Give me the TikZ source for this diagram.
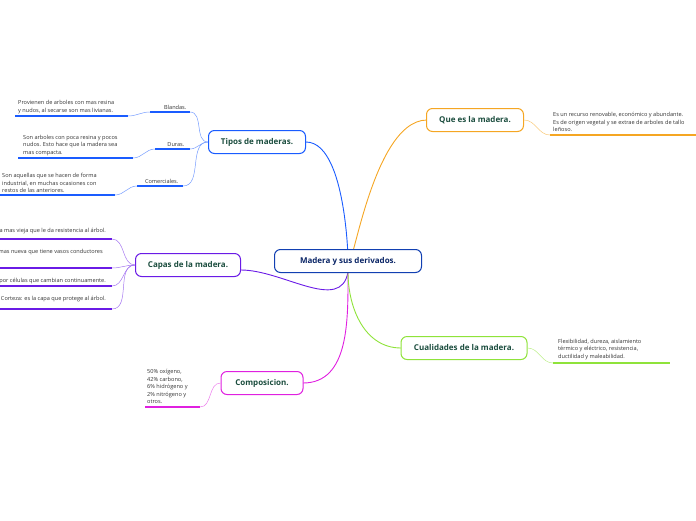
\documentclass[tikz,border=0pt]{standalone}
\usepackage{fontspec}
\setmainfont{Open Sans}
\usetikzlibrary{positioning}
\definecolor{cblue}{HTML}{1A5CFF}
\definecolor{cpurple}{HTML}{6A1BE6}
\definecolor{cmag}{HTML}{E020E0}
\definecolor{corange}{HTML}{F5A623}
\definecolor{cgreen}{HTML}{8FE33A}
\definecolor{ctext}{HTML}{1B4D3E}
\tikzset{
  topic/.style={draw, rounded corners=6pt, line width=1pt, fill=white, text=ctext,
    font=\fontsize{8}{9}\selectfont\bfseries, inner xsep=6pt, minimum height=23pt},
  leaf/.style={font=\fontsize{5.6}{7.5}\selectfont, text=black!80, align=left, inner sep=0pt},
  under/.style={line width=1.2pt},
  branch/.style={line width=0.9pt},
  twig/.style={line width=0.5pt}
}
\begin{document}
\begin{tikzpicture}[x=1pt, y=-1pt]
        \useasboundingbox (0,0) rectangle (696,520);
        % central topic
        \coordinate (hubN) at (348,250);
        \coordinate (hubS) at (348,272);
        \draw[branch, cblue] (hubN) to[out=270, in=0] (306,142);
        \draw[branch, cpurple] (hubS) to[out=260, in=0] (241,270);
        \draw[branch, cmag] (hubS) to[out=270, in=0] (303,383);
        \draw[branch, corange] (hubN) to[out=270, in=180] (427,120);
        \draw[branch, cgreen] (hubS) to[out=270, in=180] (401,348);
        \node (root) at (348,261) [topic, draw=cblue!70!black, text=cblue!40!black, minimum width=147pt] {Madera y sus derivados.};
        \node (tipos) at (257,142) [topic, draw=cblue, minimum width=97pt] {Tipos de maderas.};
        \node (capas) at (188,265) [topic, draw=cpurple, minimum width=105pt] {Capas de la madera.};
        \node (comp) at (262,383) [topic, draw=cmag, minimum width=82pt] {Composicion.};
        \node (que) at (475,120) [topic, draw=corange, minimum width=97pt] {Que es la madera.};
        \node (cual) at (464,348) [topic, draw=cgreen, minimum width=126pt] {Cualidades de la madera.};
        % tipos
        \coordinate (blR) at (190,112); \coordinate (blL) at (150,112);
        \coordinate (duR) at (190,149); \coordinate (duL) at (155,149);
        \coordinate (coR) at (183,186); \coordinate (coL) at (137,186);
        \draw[under, cblue] (blL) -- (blR) node[leaf, above left=2pt and 3pt] {Blandas.};
        \draw[under, cblue] (duL) -- (duR) node[leaf, above left=2pt and 5pt] {Duras.};
        \draw[under, cblue] (coL) -- (coR) node[leaf, above left=2pt and 4pt] {Comerciales.};
        \foreach \e in {blR, duR, coR}
          \draw[twig, cblue!60] (tipos.west) to[out=180, in=0] (\e);
        \coordinate (t1) at (128,116); \coordinate (t2) at (133,158); \coordinate (t3) at (115,195);
        \draw[under, cblue] (15,116) -- (t1);
        \draw[under, cblue] (18,158) -- (t2);
        \draw[under, cblue] (0,195) -- (t3);
        \node[leaf, anchor=south west] at (18,114) {Provienen de arboles con mas resina\\y nudos, al secarse son mas livianas.};
        \node[leaf, anchor=south west] at (23,156) {Son arboles con poca resina y pocos\\nudos. Esto hace que la madera sea\\mas compacta.};
        \node[leaf, anchor=south west] at (2,193) {Son aquellas que se hacen de forma\\industrial, en muchas ocasiones con\\restos de las anteriores.};
        \draw[twig, cblue!60] (blL) to[out=180, in=0] (t1);
        \draw[twig, cblue!60] (duL) to[out=180, in=0] (t2);
        \draw[twig, cblue!60] (coL) to[out=180, in=0] (t3);
        % capas
        \foreach \y in {239, 268, 286, 309} {
          \coordinate (c\y) at (112,\y);
          \draw[under, cpurple] (0,\y) -- (c\y);
          \draw[twig, cpurple!60] (capas.west) to[out=180, in=0] (c\y);
        }
        \node[leaf, anchor=east] at (106,231) {Albura: es la capa mas vieja que le da resistencia al árbol.};
        \node[leaf, anchor=east] at (103,252) {Duramen: es la capa mas nueva que tiene vasos conductores};
        \node[leaf, anchor=east] at (106,281) {Cambium: formada por células que cambian continuamente.};
        \node[leaf, anchor=east] at (106,299) {Corteza: es la capa que protege al árbol.};
        % composicion
        \coordinate (cpR) at (200,407);
        \draw[under, cmag] (145,407) -- (cpR);
        \node[leaf, anchor=south west] at (147,404) {50\% oxígeno,\\42\% carbono,\\6\% hidrógeno y\\2\% nitrógeno y\\otros.};
        \draw[twig, cmag!60] (comp.west) to[out=180, in=0] (cpR);
        % que es
        \coordinate (qL) at (550,135);
        \draw[under, corange] (qL) -- (696,135);
        \node[leaf, anchor=south west] at (553,132) {Es un recurso renovable, económico y abundante.\\Es de origen vegetal y se extrae de arboles de tallo\\leñoso.};
        \draw[twig, corange!60] (que.east) to[out=0, in=180] (qL);
        % cualidades
        \coordinate (qcL) at (553,363);
        \draw[under, cgreen] (qcL) -- (670,363);
        \node[leaf, anchor=south west] at (558,360) {Flexibilidad, dureza, aislamiento\\térmico y eléctrico,  resistencia,\\ductilidad y maleabilidad.};
        \draw[twig, cgreen!60] (cual.east) to[out=0, in=180] (qcL);
\end{tikzpicture}
\end{document}
